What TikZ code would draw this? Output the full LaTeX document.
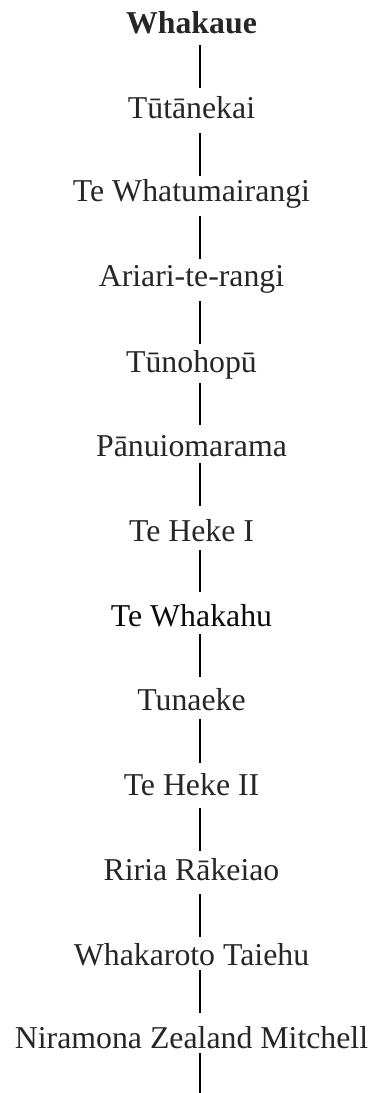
\documentclass[tikz,border=0pt]{standalone}
\usepackage{fontspec}
\setmainfont{Liberation Serif}
\definecolor{txt}{HTML}{262626}
\definecolor{txtb}{HTML}{0A0A0A}
\begin{document}
\begin{tikzpicture}[x=1pt,y=-1pt,
  lbl/.style={anchor=base,inner sep=0pt,text=txt,font=\fontsize{31.8}{36}\selectfont},
  link/.style={draw=black,line width=2pt}]
\useasboundingbox (0,0) rectangle (373,1093);
\node[lbl,font=\fontsize{31.8}{36}\selectfont\bfseries] (n1) at (191.5,33) {Whakaue};
\node[lbl] (n2) at (191.5,118) {Tūtānekai};
\node[lbl] (n3) at (191.5,201) {Te Whatumairangi};
\node[lbl] (n4) at (191.5,286) {Ariari-te-rangi};
\node[lbl] (n5) at (191.5,372) {Tūnohopū};
\node[lbl] (n6) at (191.5,456) {Pānuiomarama};
\node[lbl] (n7) at (191.5,541) {Te Heke I};
\node[lbl,text=txtb] (n8) at (191.5,626) {Te Whakahu};
\node[lbl] (n9) at (191.5,710) {Tunaeke};
\node[lbl] (n10) at (191.5,795) {Te Heke II};
\node[lbl] (n11) at (191.5,880) {Riria Rākeiao};
\node[lbl] (n12) at (191.5,965) {Whakaroto Taiehu};
\node[lbl] (n13) at (191.5,1048) {Niramona Zealand Mitchell};
% line end points
\coordinate (a1) at (199.5,45);   \coordinate (b1) at (199.5,88);
\coordinate (a2) at (199.5,133);  \coordinate (b2) at (199.5,176);
\coordinate (a3) at (199.5,216);  \coordinate (b3) at (199.5,259);
\coordinate (a4) at (199.5,301);  \coordinate (b4) at (199.5,344);
\coordinate (a5) at (199.5,383);  \coordinate (b5) at (199.5,425);
\coordinate (a6) at (199.5,463);  \coordinate (b6) at (199.5,506);
\coordinate (a7) at (199.5,550);  \coordinate (b7) at (199.5,592);
\coordinate (a8) at (199.5,634);  \coordinate (b8) at (199.5,677);
\coordinate (a9) at (199.5,719);  \coordinate (b9) at (199.5,763);
\coordinate (a10) at (199.5,808); \coordinate (b10) at (199.5,851);
\coordinate (a11) at (199.5,894); \coordinate (b11) at (199.5,937);
\coordinate (a12) at (199.5,970); \coordinate (b12) at (199.5,1013);
\coordinate (a13) at (199.5,1053); \coordinate (b13) at (199.5,1093);
\foreach \i in {1,...,13} {\draw[link] (a\i) -- (b\i);}
\end{tikzpicture}
\end{document}
